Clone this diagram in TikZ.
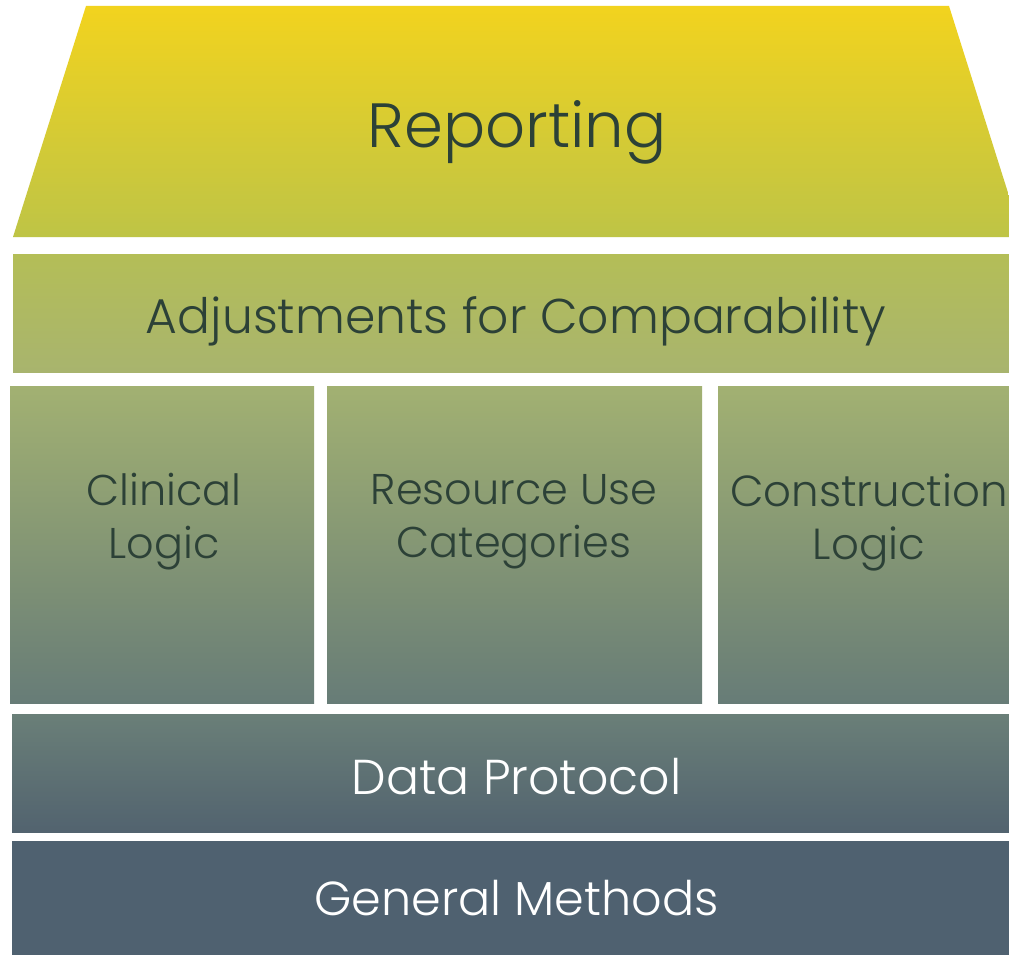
\documentclass[tikz,border=0pt]{standalone}
\usepackage{fontspec}
\setmainfont{Poppins}[UprightFont=* Light]
\definecolor{txtdark}{HTML}{2C4137}
\definecolor{repTop}{HTML}{F2D31E}
\definecolor{repMid}{HTML}{CDC838}
\definecolor{repBot}{HTML}{BEC446}
\definecolor{adjTop}{HTML}{B4BE57}
\definecolor{adjBot}{HTML}{A8B46E}
\definecolor{boxTop}{HTML}{A2B172}
\definecolor{boxMid}{HTML}{8AA280}
\definecolor{boxBot}{HTML}{677C77}
\definecolor{dpTop}{HTML}{6A7F78}
\definecolor{dpBot}{HTML}{52636F}
\definecolor{gmFill}{HTML}{4F6170}
\tikzset{
  band/.style={inner sep=0pt, outer sep=0pt, draw=none, anchor=north west},
  lbldark/.style={text=txtdark, inner sep=0pt, align=center},
  lbllight/.style={text=white, inner sep=0pt, align=center},
}
\begin{document}
\begin{tikzpicture}[x=1pt,y=-1pt]
\useasboundingbox (0,0) rectangle (1009,955);
\fill[white] (0,0) rectangle (1009,955);
% Reporting roof
\begin{scope}
\clip (0,0) rectangle (1009,955);
\path[top color=repTop, middle color=repMid, bottom color=repBot]
  (86,6) -- (949,6) -- (1022,237) -- (13,237) -- cycle;
\end{scope}
\node[lbldark, font=\fontsize{62.5}{66}\selectfont] (rep) at (517,132) {Reporting};
% Adjustments
\node[band, minimum width=996pt, minimum height=118pt, top color=adjTop, bottom color=adjBot] (adj) at (13,254) {};
\node[lbldark, font=\fontsize{48.8}{52}\selectfont] (adjt) at ([xshift=5pt,yshift=-8pt]adj.center) {Adjustments for Comparability};
% Three boxes
\node[band, minimum width=304pt, minimum height=317pt, top color=boxTop, middle color=boxMid, bottom color=boxBot] (b1) at (10,386) {};
\node[band, minimum width=375pt, minimum height=317pt, top color=boxTop, middle color=boxMid, bottom color=boxBot] (b2) at (327,386) {};
\node[band, minimum width=291pt, minimum height=317pt, top color=boxTop, middle color=boxMid, bottom color=boxBot] (b3) at (718,386) {};
\node[lbldark, font=\fontsize{43}{53}\selectfont] (b1t) at (164,522) {Clinical\\Logic};
\node[lbldark, font=\fontsize{43}{53}\selectfont] (b2t) at (514,522) {Resource Use\\Categories};
\node[lbldark, font=\fontsize{43.5}{53}\selectfont] (b3t) at (869,522) {Construction\\Logic};
% Data Protocol
\node[band, minimum width=997pt, minimum height=118pt, top color=dpTop, bottom color=dpBot] (dp) at (12,714) {};
\node[lbllight, font=\fontsize{49}{52}\selectfont] (dpt) at ([xshift=6pt,yshift=-4pt]dp.center) {Data Protocol};
% General Methods
\node[band, minimum width=997pt, minimum height=114pt, fill=gmFill] (gm) at (12,841) {};
\node[lbllight, font=\fontsize{47.7}{52}\selectfont] (gmt) at ([xshift=6pt]gm.center) {General Methods};
\end{tikzpicture}
\end{document}
